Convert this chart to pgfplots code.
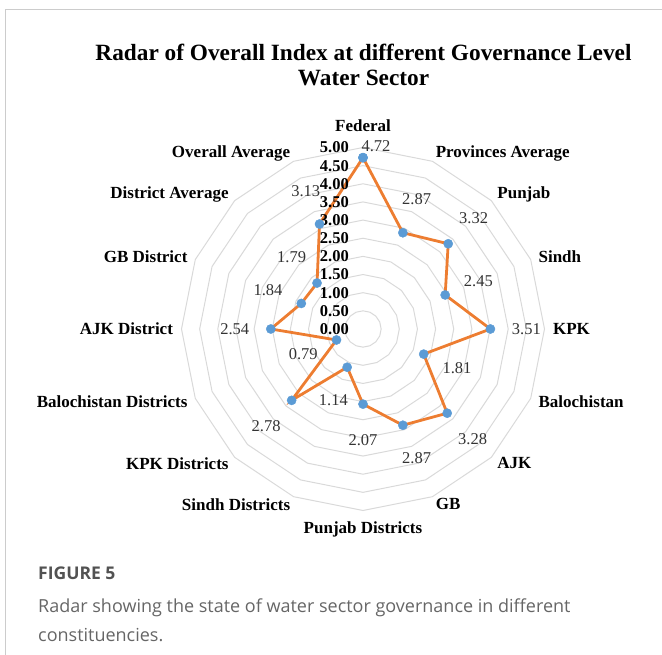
\documentclass[border=0pt]{standalone}
\usepackage{fontspec}
\setmainfont{Liberation Serif}
\newfontfamily\capfont{Open Sans}
\usepackage{pgfplots}
\pgfplotsset{compat=1.18}
\definecolor{lineorange}{HTML}{ED7D31}
\definecolor{markblue}{HTML}{5B9BD5}
\definecolor{ringgray}{HTML}{D9D9D9}

\begin{document}
\begin{tikzpicture}[x=1pt,y=1pt]
\path[use as bounding box] (0,0) rectangle (662,655);
\draw[black!20, line width=1pt] (5,0) -- (5,645) -- (662,645);

% title
\node[font=\bfseries\fontsize{23.3}{27}\selectfont] at (363.5,603) {Radar of Overall Index at different Governance Level};
\node[font=\bfseries\fontsize{23.3}{27}\selectfont] at (363.5,577) {Water Sector};

% caption
\node[anchor=base west, inner sep=0pt, text=black!68, font=\capfont\bfseries\fontsize{17.5}{20}\selectfont] at (38,75) {FIGURE 5};
\node[anchor=base west, inner sep=0pt, text=black!60, font=\capfont\fontsize{18}{21}\selectfont] at (38,42.5) {Radar showing the state of water sector governance in different};
\node[anchor=base west, inner sep=0pt, text=black!60, font=\capfont\fontsize{18}{21}\selectfont] at (38,13.3) {constituencies.};

\begin{axis}[at={(363pt,326pt)}, anchor=center,
  x=36.3pt, y=36.3pt,
  xmin=-5.5, xmax=5.5, ymin=-5.5, ymax=5.5,
  hide axis, clip=false]

% polygon grid
\pgfplotsinvokeforeach{0.5,1.0,1.5,2.0,2.5,3.0,3.5,4.0,4.5,5.0}{
  \addplot[ringgray, line width=1pt, data cs=polar, mark=none] coordinates {
    (90,#1) (67.5,#1) (45,#1) (22.5,#1) (0,#1) (-22.5,#1) (-45,#1) (-67.5,#1)
    (-90,#1) (-112.5,#1) (-135,#1) (-157.5,#1) (180,#1) (157.5,#1) (135,#1) (112.5,#1) (90,#1)};
}

% radial axis labels
\addplot[draw=none, mark=none, data cs=polar, nodes near coords, point meta=explicit symbolic,
  every node near coord/.append style={anchor=east, xshift=-14pt, inner sep=0pt,
    font=\bfseries\fontsize{16.5}{18}\selectfont, text=black}]
  coordinates {(90,0)[0.00] (90,0.5)[0.50] (90,1)[1.00] (90,1.5)[1.50] (90,2)[2.00]
    (90,2.5)[2.50] (90,3)[3.00] (90,3.5)[3.50] (90,4)[4.00] (90,4.5)[4.50] (90,5)[5.00]};

% category labels
\addplot[draw=none, mark=none, data cs=polar, nodes near coords, point meta=explicit symbolic,
  every node near coord/.append style={anchor=west, inner sep=0pt,
    font=\bfseries\fontsize{17}{19}\selectfont, text=black}]
  coordinates {(67.5,5.23)[Provinces Average] (45,5.23)[Punjab] (22.5,5.23)[Sindh]
    (0,5.23)[KPK] (-22.5,5.23)[Balochistan] (-45,5.23)[AJK] (-67.5,5.23)[GB]};
\addplot[draw=none, mark=none, data cs=polar, nodes near coords, point meta=explicit symbolic,
  every node near coord/.append style={anchor=east, inner sep=0pt,
    font=\bfseries\fontsize{17}{19}\selectfont, text=black}]
  coordinates {(-112.5,5.23)[Sindh Districts] (-135,5.23)[KPK Districts]
    (-157.5,5.23)[Balochistan Districts] (180,5.23)[AJK District] (157.5,5.23)[GB District]
    (135,5.23)[District Average] (112.5,5.23)[Overall Average]};
\addplot[draw=none, mark=none, data cs=polar, nodes near coords, point meta=explicit symbolic,
  every node near coord/.append style={anchor=south, inner sep=0pt,
    font=\bfseries\fontsize{17}{19}\selectfont, text=black}]
  coordinates {(90,5.42)[Federal]};
\addplot[draw=none, mark=none, data cs=polar, nodes near coords, point meta=explicit symbolic,
  every node near coord/.append style={anchor=north, inner sep=0pt,
    font=\bfseries\fontsize{17}{19}\selectfont, text=black}]
  coordinates {(-90,5.3)[Punjab Districts]};

% data
\addplot[lineorange, line width=2.8pt, data cs=polar,
  mark=*, mark size=4.6pt, mark options={solid, draw=markblue, fill=markblue, line width=0.4pt},
  nodes near coords, point meta=explicit symbolic,
  visualization depends on={rawx \as \ang},
  every node near coord/.append style={anchor=center, inner sep=0pt, shift={(\ang:36pt)},
    font=\fontsize{16.5}{18}\selectfont, text=black!80}]
  coordinates {
    (90,4.72)[]
    (67.5,2.87)[2.87]
    (45,3.32)[3.32]
    (22.5,2.45)[2.45]
    (0,3.51)[3.51]
    (-22.5,1.81)[1.81]
    (-45,3.28)[3.28]
    (-67.5,2.87)[2.87]
    (-90,2.07)[2.07]
    (-112.5,1.14)[1.14]
    (-135,2.78)[2.78]
    (-157.5,0.79)[0.79]
    (180,2.54)[2.54]
    (157.5,1.84)[1.84]
    (135,1.79)[1.79]
    (112.5,3.13)[3.13]
    (90,4.72)[]
  };
\addplot[draw=none, mark=none, data cs=polar, nodes near coords, point meta=explicit symbolic,
  every node near coord/.append style={anchor=center, inner sep=0pt, xshift=13pt, yshift=11pt,
    font=\fontsize{16.5}{18}\selectfont, text=black!80}]
  coordinates {(90,4.72)[4.72]};
\end{axis}
\end{tikzpicture}
\end{document}
